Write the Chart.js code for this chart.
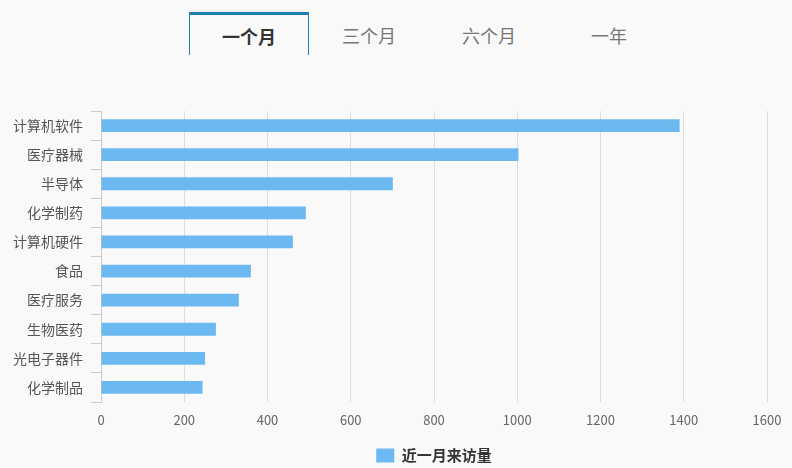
<!DOCTYPE html>
<html><head><meta charset="utf-8">
<script src="https://cdn.jsdelivr.net/npm/chart.js@4"></script>
<style>
html,body{margin:0;padding:0;background:#f9f9fa;}
#wrap{position:relative;width:792px;height:468px;background:#f9f9fa;font-family:"Noto Sans CJK SC",sans-serif;}
#tabs{position:absolute;left:189px;top:12px;height:43px;display:flex;}
.tab{width:120px;height:43px;box-sizing:border-box;text-align:center;line-height:46px;font-size:18px;color:#777;}
.tab.active{border:1px solid #1f7fb3;border-top:3px solid #1f7fb3;border-bottom:none;color:#333;font-weight:bold;line-height:42px;}
canvas{position:absolute;left:0;top:0;}
</style></head>
<body><div id="wrap">
<div id="tabs"><div class="tab active">一个月</div><div class="tab">三个月</div><div class="tab">六个月</div><div class="tab">一年</div></div>
<canvas id="c" width="792" height="468"></canvas>
</div>
<script>
const categories = ["计算机软件","医疗器械","半导体","化学制药","计算机硬件","食品","医疗服务","生物医药","光电子器件","化学制品"];
const visits = [1390, 1003, 701, 492, 461, 360, 331, 276, 250, 244];
const seriesName = "近一月来访量";
const xTicks = [0,200,400,600,800,1000,1200,1400,1600];

new Chart(document.getElementById('c'), {
  type: 'bar',
  data: { labels: categories, datasets: [{ label: seriesName, data: visits, backgroundColor: '#6cb8f0', borderWidth: 0, barPercentage: 0.44, categoryPercentage: 1 }] },
  options: {
    indexAxis: 'y', responsive: false, animation: false,
    layout: { padding: { top: 111, left: 0, right: 25, bottom: -5 } },
    plugins: {
      legend: { position: 'bottom', fullSize: false, labels: { boxWidth: 18, boxHeight: 14, padding: 3, color: '#333', font: { family: '"Noto Sans CJK SC"', size: 15, weight: 'bold' } } },
      tooltip: { enabled: false }
    },
    scales: {
      x: {
        min: 0, max: 1600,
        afterBuildTicks: s => { s.ticks = xTicks.map(v => ({ value: v })); },
        grid: { color: '#dddddd', lineWidth: 1, drawTicks: false },
        border: { display: false },
        ticks: { color: '#666', padding: 10, font: { family: '"Noto Sans CJK SC"', size: 13 }, callback: v => String(v) },
        afterFit: s => { s.height = 43; }
      },
      y: {
        grid: { offset: true, drawOnChartArea: false, tickLength: 10, color: '#cccccc' },
        border: { display: true, color: '#cccccc' },
        ticks: { color: '#555', padding: 8, font: { family: '"Noto Sans CJK SC"', size: 14 } },
        afterFit: s => { s.width = 101; }
      }
    }
  }
});
</script>
</body></html>
